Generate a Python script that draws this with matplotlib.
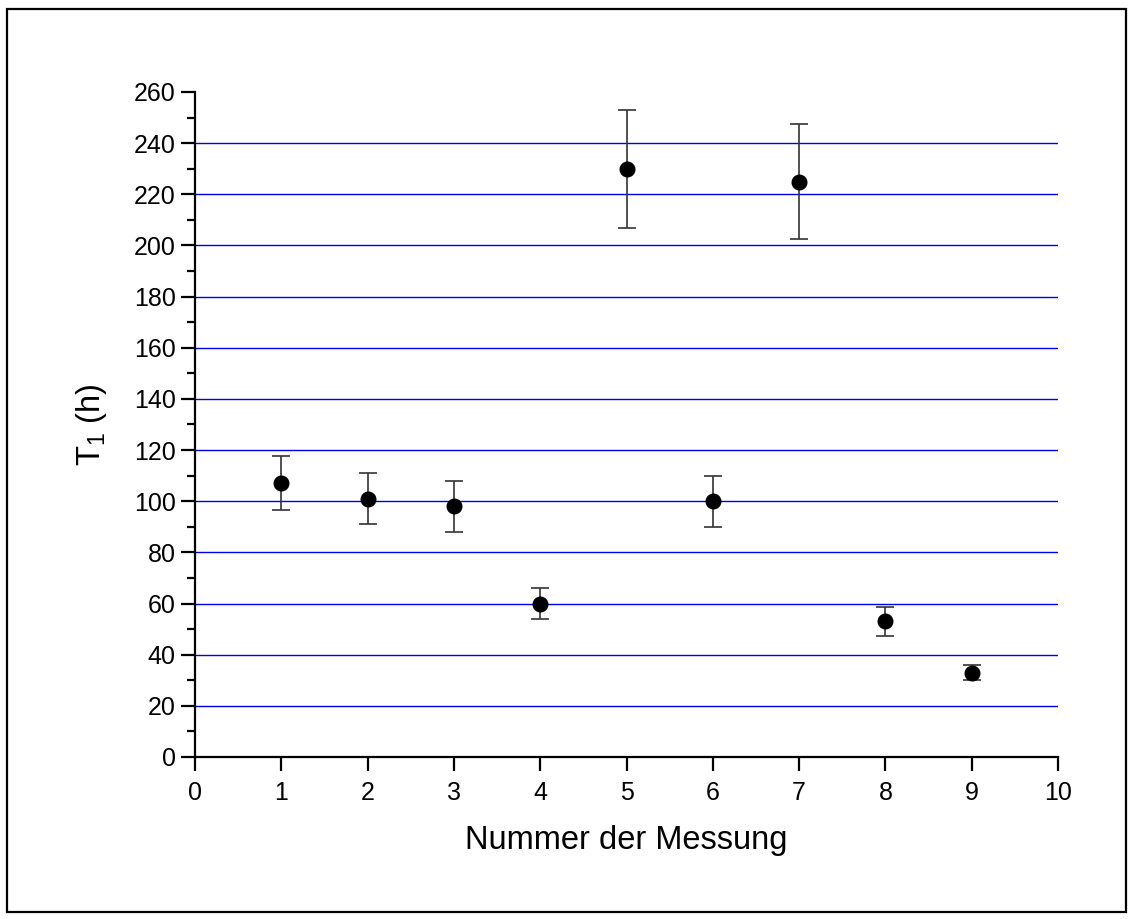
import matplotlib
matplotlib.use("Agg")
import matplotlib.pyplot as plt
from matplotlib.patches import Rectangle
from matplotlib.ticker import MultipleLocator

plt.rcParams['font.family'] = ['Liberation Sans', 'DejaVu Sans']
plt.rcParams['mathtext.default'] = 'regular'

messung = [1, 2, 3, 4, 5, 6, 7, 8, 9]
t1 = [107, 101, 98, 60, 230, 100, 225, 53, 33]
t1_err = [10.5, 10, 10, 6, 23, 10, 22.5, 5.5, 3]
grid_levels = [20, 40, 60, 80, 100, 120, 140, 160, 180, 200, 220, 240]

W, H = 1131, 919
fig = plt.figure(figsize=(W / 100, H / 100), dpi=100)
ax = fig.add_axes([195 / W, 1 - 757 / H, (1058 - 195) / W, (757 - 92) / H])

# outer frame around the whole figure
fig.patches.append(Rectangle((7 / W, 1 - 912 / H), (1126 - 7) / W, (912 - 9) / H,
                             transform=fig.transFigure, fill=False,
                             edgecolor='black', linewidth=1.6))

for g in grid_levels:
    ax.axhline(g, color='#0000ee', linewidth=1.0, zorder=1)

ax.errorbar(messung, t1, yerr=t1_err, fmt='o', color='black', markersize=10.5,
            ecolor='#333333', elinewidth=1.2, capsize=6.5, capthick=1.2, zorder=3)

ax.set_xlim(0, 10)
ax.set_ylim(0, 260)
ax.xaxis.set_major_locator(MultipleLocator(1))
ax.yaxis.set_major_locator(MultipleLocator(20))
ax.yaxis.set_minor_locator(MultipleLocator(10))

for s in ['top', 'right']:
    ax.spines[s].set_visible(False)
for s in ['left', 'bottom']:
    ax.spines[s].set_linewidth(1.6)

ax.tick_params(axis='both', which='major', direction='out', length=10, width=1.6,
               labelsize=18)
ax.tick_params(axis='x', which='major', pad=7.5)
ax.tick_params(axis='y', which='major', pad=4)
ax.tick_params(axis='y', which='minor', direction='out', length=5.5, width=1.6)
ax.tick_params(axis='x', which='minor', length=0)

ax.set_xlabel('Nummer der Messung', fontsize=23.5, labelpad=14)
ax.set_ylabel('T$_1$ (h)', fontsize=23.5, labelpad=18)

fig.savefig('out.png', dpi=100, facecolor='white')
